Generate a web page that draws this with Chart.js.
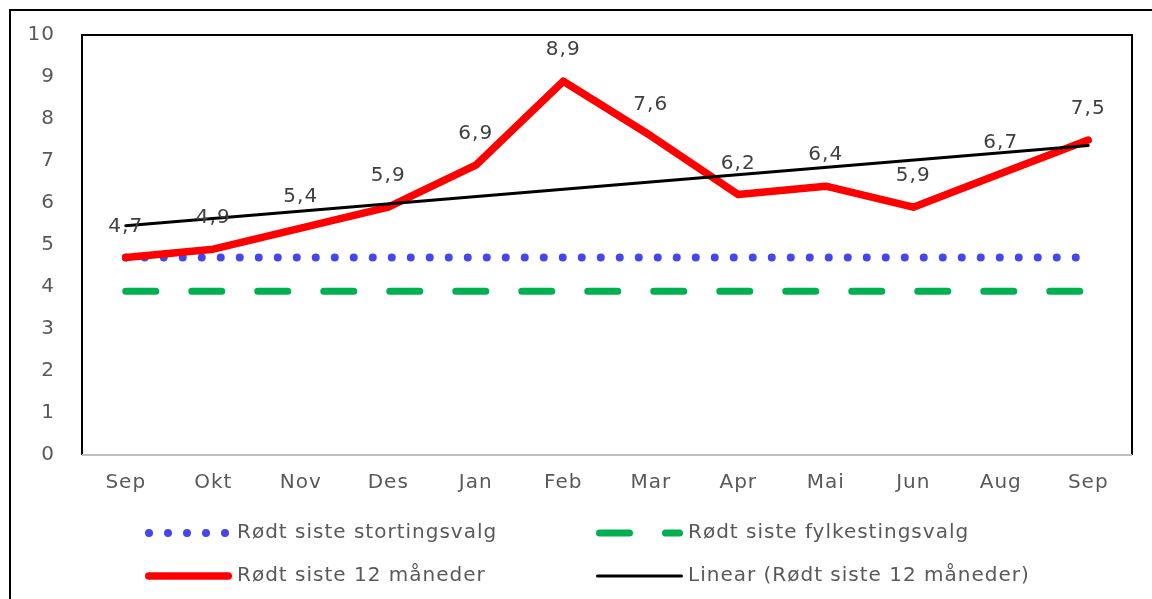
<!DOCTYPE html>
<html lang="no">
<head>
<meta charset="UTF-8">
<title>Rødt siste 12 måneder</title>
<script src="https://cdn.jsdelivr.net/npm/chart.js"></script>
<style>
  html, body { margin: 0; padding: 0; background: #fff; }
  canvas { display: block; }
</style>
</head>
<body>
<canvas id="chart" width="1152" height="599"></canvas>
<script>
const months = ['Sep', 'Okt', 'Nov', 'Des', 'Jan', 'Feb', 'Mar', 'Apr', 'Mai', 'Jun', 'Aug', 'Sep'];
const rodt12 = [4.7, 4.9, 5.4, 5.9, 6.9, 8.9, 7.6, 6.2, 6.4, 5.9, 6.7, 7.5];
const stortingsvalg = [4.7, 4.7, 4.7, 4.7, 4.7, 4.7, 4.7, 4.7, 4.7, 4.7, 4.7, 4.7];
const fylkestingsvalg = [3.9, 3.9, 3.9, 3.9, 3.9, 3.9, 3.9, 3.9, 3.9, 3.9, 3.9, 3.9];
// trend line: start and end only
const trend = [5.46, null, null, null, null, null, null, null, null, null, null, 7.37];
const yTicks = [0, 1, 2, 3, 4, 5, 6, 7, 8, 9, 10];

const FONT = '"DejaVu Sans", sans-serif';
const FSIZE = 20;
const GREY = '#595959';

// legend order as in the picture (two columns)
const legendItems = [
    { ds: 2, col: 0, row: 0 },
    { ds: 3, col: 1, row: 0 },
    { ds: 1, col: 0, row: 1 },
    { ds: 0, col: 1, row: 1 }
];

const extras = {
    id: 'extras',
    beforeDraw(chart) {
        // the reference text is spaced out a little
        chart.ctx.letterSpacing = '1px';
    },
    beforeDatasetsDraw(chart) {
        const { ctx, chartArea: a } = chart;
        ctx.save();
        ctx.lineWidth = 2;
        ctx.strokeStyle = '#000';
        ctx.strokeRect(10, 10, 1300, 800);
        ctx.beginPath();
        ctx.moveTo(a.left, a.bottom);
        ctx.lineTo(a.left, a.top);
        ctx.lineTo(a.right, a.top);
        ctx.lineTo(a.right, a.bottom);
        ctx.stroke();
        ctx.strokeStyle = '#bfbfbf';
        ctx.beginPath();
        ctx.moveTo(a.left, a.bottom);
        ctx.lineTo(a.right, a.bottom);
        ctx.stroke();
        ctx.restore();
    },
    afterDatasetsDraw(chart) {
        const ctx = chart.ctx;
        const meta = chart.getDatasetMeta(1);
        ctx.save();
        ctx.font = FSIZE + 'px ' + FONT;
        ctx.fillStyle = '#404040';
        ctx.textAlign = 'center';
        ctx.textBaseline = 'middle';
        meta.data.forEach((pt, i) => {
            const txt = rodt12[i].toFixed(1).replace('.', ',');
            ctx.fillText(txt, pt.x, pt.y - 31);
        });
        ctx.restore();
    },
    afterDraw(chart) {
        const ctx = chart.ctx;
        const colX = [145, 596];
        const rowY = [533, 576];
        const sampleLen = 86;
        ctx.save();
        legendItems.forEach(item => {
            const ds = chart.data.datasets[item.ds];
            const x = colX[item.col];
            const y = rowY[item.row];
            const w = ds.borderWidth;
            ctx.strokeStyle = ds.borderColor;
            ctx.lineWidth = w;
            ctx.lineCap = ds.borderCapStyle || 'butt';
            ctx.setLineDash(ds.borderDash || []);
            ctx.beginPath();
            ctx.moveTo(x + w / 2, y);
            ctx.lineTo(x + sampleLen - w / 2 + 1, y);
            ctx.stroke();
            ctx.setLineDash([]);
            ctx.font = FSIZE + 'px ' + FONT;
            ctx.fillStyle = GREY;
            ctx.textAlign = 'left';
            ctx.textBaseline = 'middle';
            ctx.fillText(ds.label, x + 92, y);
        });
        ctx.restore();
    }
};

new Chart(document.getElementById('chart'), {
    type: 'line',
    data: {
        labels: months,
        datasets: [
            {
                label: 'Linear (Rødt siste 12 måneder)',
                data: trend,
                spanGaps: true,
                borderColor: '#000000',
                borderWidth: 3,
                borderCapStyle: 'round',
                pointRadius: 0,
                order: 0
            },
            {
                label: 'Rødt siste 12 måneder',
                data: rodt12,
                borderColor: '#ff0000',
                borderWidth: 7.5,
                borderCapStyle: 'round',
                borderJoinStyle: 'round',
                pointRadius: 0,
                order: 1
            },
            {
                label: 'Rødt siste stortingsvalg',
                data: stortingsvalg,
                borderColor: '#4646ee',
                borderWidth: 8,
                borderDash: [0, 19],
                borderCapStyle: 'round',
                pointRadius: 0,
                order: 2
            },
            {
                label: 'Rødt siste fylkestingsvalg',
                data: fylkestingsvalg,
                borderColor: '#00b050',
                borderWidth: 7,
                borderDash: [30, 36],
                borderCapStyle: 'round',
                pointRadius: 0,
                order: 3
            }
        ]
    },
    options: {
        responsive: false,
        animation: false,
        layout: { padding: { left: 0, top: 35, right: 20, bottom: 0 } },
        plugins: {
            legend: { display: false },
            tooltip: { enabled: false }
        },
        scales: {
            x: {
                offset: true,
                grid: { display: false, drawTicks: false },
                border: { display: false },
                ticks: { color: GREY, font: { family: FONT, size: FSIZE }, padding: 16, maxRotation: 0 },
                afterFit(scale) { scale.height = 144; }
            },
            y: {
                min: 0,
                max: 10,
                grid: { display: false, drawTicks: false },
                border: { display: false },
                afterBuildTicks(scale) { scale.ticks = yTicks.map(v => ({ value: v })); },
                ticks: { color: GREY, font: { family: FONT, size: FSIZE }, padding: 27 },
                afterFit(scale) {
                    scale.width = 82;
                    scale.paddingTop = 0;
                    scale.paddingBottom = 0;
                }
            }
        }
    },
    plugins: [extras]
});
</script>
</body>
</html>
